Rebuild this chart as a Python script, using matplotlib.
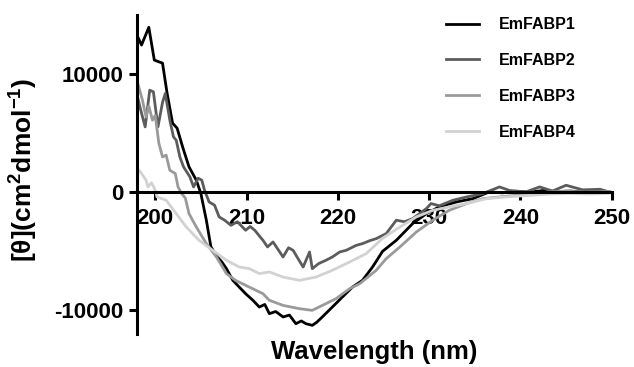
import matplotlib
matplotlib.use('Agg')
import matplotlib.pyplot as plt

plt.rcParams['font.family'] = ['Liberation Sans', 'DejaVu Sans']
plt.rcParams['font.weight'] = 'bold'
plt.rcParams['mathtext.fontset'] = 'custom'
plt.rcParams['mathtext.rm'] = 'Liberation Sans:bold'
plt.rcParams['mathtext.default'] = 'regular'
plt.rcParams['axes.unicode_minus'] = False

labels = ['EmFABP1', 'EmFABP2', 'EmFABP3', 'EmFABP4']
colors = ['#000000', '#5c5c5c', '#9a9a9a', '#d2d2d2']

wl1 = [197.9, 198.5, 199.3, 199.9, 200.4, 200.8, 201.3, 201.9, 202.4, 203.0,
       203.7, 204.5, 205.0, 205.6, 206.1, 206.8, 207.3, 207.8, 208.5, 209.2,
       209.9, 210.7, 211.4, 212.0, 212.5, 213.2, 214.0, 214.7, 215.4, 216.0,
       216.5, 217.2, 217.7, 218.3, 219.4, 220.5, 221.6, 222.7, 223.8, 224.9,
       226.4, 228.2, 229.7, 231.1, 233.0, 234.8, 236.6, 238.0, 239.5, 241.0,
       242.5, 244.0, 245.5, 247.0, 248.5, 249.8]
em1 = [13470, 12460, 13960, 11190, 11040, 10930, 8390, 5850, 5420, 3840,
       2150, 1020, -110, -2370, -4630, -5480, -5900, -6470, -7460, -8030,
       -8590, -9150, -9720, -9500, -10280, -10100, -10560, -10400, -11130, -10900,
       -11130, -11270, -11000, -10560, -9720, -8870, -8030, -7460, -6330, -5000,
       -4070, -2650, -1810, -1240, -820, -540, 30, -50, 80, 0,
       150, 50, 100, 0, 150, 0]

wl2 = [197.9, 198.4, 198.9, 199.4, 199.8, 200.3, 200.8, 201.1, 201.6, 202.0,
       202.3, 202.7, 203.1, 203.8, 204.2, 204.7, 205.1, 205.4, 205.9, 206.5,
       207.0, 207.6, 208.3, 209.0, 209.9, 210.4, 210.9, 211.8, 212.3, 212.9,
       213.5, 214.0, 214.6, 215.1, 215.7, 216.2, 216.9, 217.2, 217.9, 218.7,
       219.4, 220.2, 220.9, 221.3, 222.0, 222.7, 223.5, 224.2, 225.3, 226.4,
       227.3, 228.2, 229.7, 230.2, 231.1, 232.6, 234.1, 235.9, 237.7, 238.8,
       240.6, 242.1, 243.5, 245.0, 246.8, 248.7, 249.6]
em2 = [8600, 7000, 5530, 8640, 8500, 5530, 7600, 8360, 6100, 4690,
       4400, 2990, 2150, 1300, 450, 1190, 1020, 170, -820, -1100,
       -2090, -2370, -2800, -2500, -3220, -2900, -3220, -4070, -4630, -4210,
       -4900, -5480, -4700, -4920, -5700, -6330, -5060, -6470, -6040, -5760,
       -5480, -5060, -4920, -4770, -4500, -4350, -4100, -3930, -3500, -2370,
       -2500, -2230, -1380, -960, -1150, -680, -400, -110, 450, 150,
       25, 450, 100, 590, 200, 250, 50]

wl3 = [197.9, 198.3, 198.6, 199.0, 199.3, 199.7, 200.0, 200.4, 200.8, 201.2,
       201.6, 202.2, 202.5, 202.9, 203.3, 203.7, 204.5, 205.6, 206.7, 207.8,
       208.8, 210.3, 211.8, 212.5, 214.0, 215.8, 217.2, 218.3, 219.8, 221.3,
       222.4, 224.2, 225.3, 226.8, 228.6, 230.4, 232.2, 234.1, 235.9, 237.7,
       239.6, 241.3, 243.0, 245.0, 247.0, 249.8]
em3 = [9750, 8640, 7800, 6380, 7300, 6100, 6500, 4150, 2990, 3140,
       1860, 1580, 450, -110, -500, -1810, -2940, -4350, -5480, -6890,
       -7460, -8030, -8590, -9150, -9580, -9860, -10000, -9580, -9010, -8160,
       -7740, -6610, -5620, -4630, -3360, -2370, -1530, -960, -540, -400,
       -250, -100, 0, 100, 0, 50]

wl4 = [197.9, 198.4, 199.0, 199.2, 199.6, 200.0, 200.2, 201.2, 202.3, 203.4,
       204.8, 206.3, 207.8, 209.2, 210.3, 211.4, 212.5, 214.0, 215.8, 217.6,
       219.4, 221.3, 223.1, 224.9, 226.8, 228.6, 230.4, 232.2, 234.1, 236.3,
       238.4, 241.3, 243.2, 245.4, 247.6, 249.6]
em4 = [2100, 1700, 1020, 450, 800, 170, -400, -680, -1810, -2940,
       -4070, -4920, -5760, -6330, -6470, -6890, -6750, -7180, -7460, -7180,
       -6610, -5900, -5200, -3900, -2940, -2090, -1530, -1240, -960, -540,
       -400, -250, -150, -100, -150, -100]

xticks = [200, 210, 220, 230, 240, 250]
yticks = [-10000, 0, 10000]

fig = plt.figure(figsize=(6.34, 3.67), dpi=100)
ax = fig.add_axes([0.216, 0.090, 0.749, 0.869])

series = [(wl1, em1), (wl2, em2), (wl3, em3), (wl4, em4)]
for (w, e), lab, c in zip(series, labels, colors):
    ax.plot(w, e, color=c, lw=2.0, label=lab)

ax.set_xlim(198, 250)
ax.set_ylim(-12000, 15000)
ax.set_xticks(xticks)
ax.set_yticks(yticks)
ax.set_axisbelow(True)

ax.spines['top'].set_visible(False)
ax.spines['right'].set_visible(False)
ax.spines['bottom'].set_position(('data', 0))
ax.spines['left'].set_linewidth(2.2)
ax.spines['bottom'].set_linewidth(2.2)
ax.tick_params(axis='both', direction='out', length=6, width=2.2, labelsize=16)
ax.tick_params(axis='x', pad=5)
ax.tick_params(axis='y', pad=4)

ax.set_xlabel('Wavelength (nm)', fontsize=18.5, fontweight='bold')
ax.xaxis.set_label_coords(0.5, -0.02)
ax.set_ylabel('[θ](cm$^{2}$dmol$^{-1}$)', fontsize=19, fontweight='bold')
ax.yaxis.set_label_coords(-0.205, 0.515)

ax.legend(loc='upper left', bbox_to_anchor=(0.703, 0.953), bbox_transform=fig.transFigure,
          frameon=False, fontsize=11.5, handlelength=2.1, handletextpad=1.2,
          labelspacing=1.3, borderpad=0, borderaxespad=0)

fig.savefig('out.png', dpi=100)
